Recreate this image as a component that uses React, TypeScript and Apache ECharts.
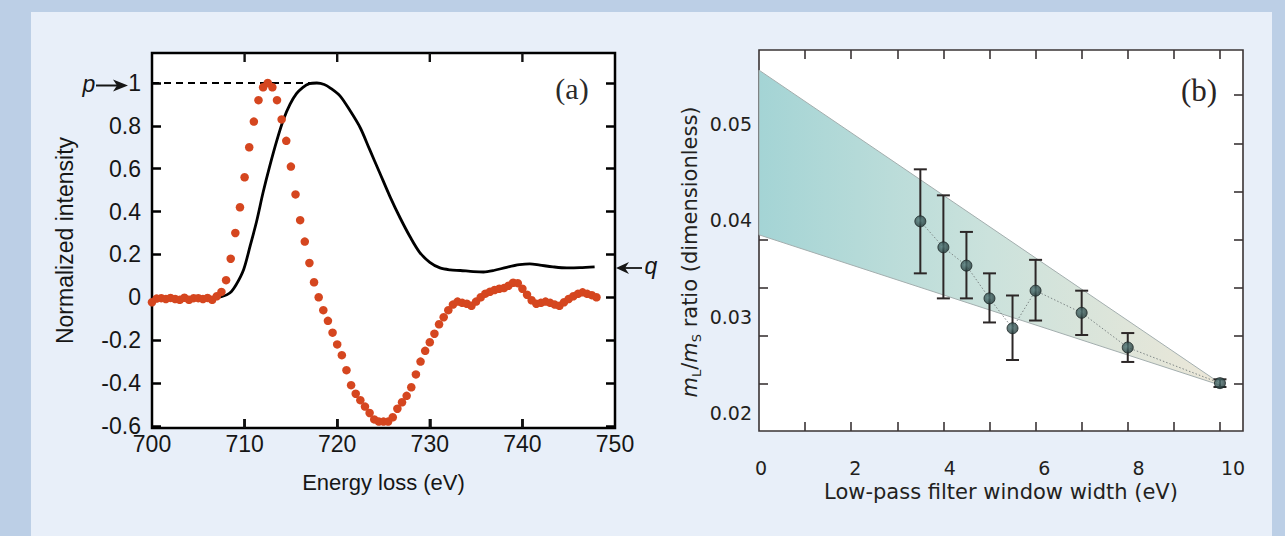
import React, { useEffect, useRef } from "react";
import * as echarts from "echarts";

// ---------- Panel (a) data ----------
const xTicksA = [700, 710, 720, 730, 740, 750];
const xInnerTicksA = [710, 720, 730, 740];
const yTicksA = [-0.6, -0.4, -0.2, 0, 0.2, 0.4, 0.6, 0.8, 1];
const yMinA = -0.61;
const yMaxA = 1.14;

// red dotted spectrum: [energy loss (eV), normalized intensity]
const redPoints: [number, number][] = [
  [700.0, -0.023], [700.5, -0.006], [701.0, -0.004], [701.5, -0.008], [702.0, -0.003],
  [702.5, -0.008], [703.0, -0.012], [703.5, -0.002], [704.0, -0.012], [704.5, -0.004],
  [705.0, -0.004], [705.5, -0.008], [706.0, -0.003], [706.5, -0.012], [707.0, 0.005],
  [707.5, 0.025], [708.0, 0.08], [708.5, 0.18], [709.0, 0.3], [709.5, 0.42],
  [710.0, 0.56], [710.5, 0.7], [711.0, 0.82], [711.5, 0.92], [712.0, 0.98],
  [712.5, 1.0], [713.0, 0.98], [713.5, 0.92], [714.0, 0.83], [714.5, 0.73],
  [715.0, 0.61], [715.5, 0.48], [716.0, 0.36], [716.5, 0.26], [717.0, 0.16],
  [717.5, 0.07], [718.0, 0.0], [718.5, -0.06], [719.0, -0.11], [719.5, -0.165],
  [720.0, -0.22], [720.5, -0.27], [721.0, -0.34], [721.5, -0.41], [722.0, -0.45],
  [722.5, -0.48], [723.0, -0.51], [723.5, -0.54], [724.0, -0.57], [724.5, -0.58],
  [725.0, -0.58], [725.5, -0.58], [726.0, -0.56], [726.5, -0.52], [727.0, -0.49],
  [727.5, -0.46], [728.0, -0.42], [728.5, -0.36], [729.0, -0.3], [729.5, -0.25],
  [730.0, -0.21], [730.5, -0.17], [731.0, -0.126], [731.5, -0.093], [732.0, -0.06],
  [732.5, -0.034], [733.0, -0.02], [733.5, -0.026], [734.0, -0.03], [734.5, -0.04],
  [735.0, -0.02], [735.5, 0.0], [736.0, 0.017], [736.5, 0.026], [737.0, 0.034],
  [737.5, 0.04], [738.0, 0.043], [738.5, 0.054], [739.0, 0.068], [739.5, 0.066],
  [740.0, 0.04], [740.5, 0.012], [741.0, -0.014], [741.5, -0.03], [742.0, -0.026],
  [742.5, -0.02], [743.0, -0.026], [743.5, -0.034], [744.0, -0.04], [744.5, -0.023],
  [745.0, -0.008], [745.5, 0.005], [746.0, 0.016], [746.5, 0.023], [747.0, 0.016],
  [747.5, 0.01], [748.0, 0.0],
];

// black solid spectrum
const blackEnergy = [
  706.5, 707.5, 708.4, 709.1, 709.9, 710.6, 711.3, 712.0, 712.7, 713.5, 714.2, 714.9,
  715.6, 716.3, 717.0, 717.8, 718.6, 719.3, 720.3, 721.4, 722.5, 723.5, 724.6, 725.7,
  726.8, 727.9, 728.9, 730.0, 731.1, 732.2, 733.3, 734.7, 735.8, 736.9, 738.3, 739.7,
  740.8, 741.9, 743.3, 744.8, 746.2, 747.8,
];
const blackIntensity = [
  0.0, 0.003, 0.02, 0.06, 0.13, 0.24, 0.355, 0.49, 0.61, 0.735, 0.83, 0.9,
  0.95, 0.98, 0.997, 1.0, 0.993, 0.975, 0.94, 0.87, 0.79, 0.69, 0.58, 0.47,
  0.37, 0.28, 0.21, 0.163, 0.137, 0.128, 0.125, 0.12, 0.118, 0.125, 0.14, 0.152,
  0.156, 0.15, 0.142, 0.137, 0.138, 0.142,
];
const peakEnergy = 717.8;
const peakLevel = 1;

// ---------- Panel (b) data ----------
const filterWidth = [3.5, 4, 4.5, 5, 5.5, 6, 7, 8, 10];
const ratio = [0.0399, 0.0372, 0.0353, 0.0319, 0.0288, 0.0327, 0.0304, 0.0268, 0.0231];
const errLow = [0.0345, 0.0319, 0.0319, 0.0294, 0.0255, 0.0296, 0.0281, 0.0253, 0.0227];
const errHigh = [0.0453, 0.0426, 0.0388, 0.0345, 0.0322, 0.0359, 0.0327, 0.0283, 0.0235];

const bandX = [0, 10];
const bandUpper = [0.0556, 0.0231];
const bandLower = [0.0385, 0.0229];

const xTicksB = [1, 2, 3, 4, 5, 6, 7, 8, 9, 10];
const xLabelsB = [0, 2, 4, 6, 8, 10];
const yTicksB = [0.023, 0.028, 0.033, 0.038, 0.043, 0.048, 0.053];
const yLabelsB = [0.02, 0.03, 0.04, 0.05];

const SANS = '"Liberation Sans", Arial, Helvetica, sans-serif';
const WIDE = '"DejaVu Sans", Verdana, sans-serif';
const SERIF = '"Liberation Serif", "Times New Roman", serif';

export default function App() {
  const ref = useRef<HTMLDivElement>(null);

  useEffect(() => {
    if (!ref.current) return;
    const chart = echarts.init(ref.current, undefined, { renderer: "svg" });

    const axisColorA = "#000";
    const axisColorB = "#3a3435";
    const noLine = () => ({ show: false, onZero: false });

    const tickA = (values: number[]) => ({
      show: true,
      inside: true,
      length: 9,
      customValues: values,
      lineStyle: { color: axisColorA, width: 2.5 },
    });
    const tickB = (values: number[]) => ({
      show: true,
      inside: true,
      length: 9,
      customValues: values,
      lineStyle: { color: axisColorB, width: 1.6 },
    });

    const bandFill = new echarts.graphic.LinearGradient(0, 0, 1, 0, [
      { offset: 0, color: "#a4d4d5" },
      { offset: 0.5, color: "#cbe2dc" },
      { offset: 1, color: "#ece7d8" },
    ]);

    const option: any = {
      animation: false,
      backgroundColor: "#e8eff9",
      grid: [
        {
          left: 152, top: 53, width: 463, height: 375,
          show: true, backgroundColor: "#ffffff",
          borderColor: axisColorA, borderWidth: 2.5,
        },
        {
          left: 759, top: 50, width: 484, height: 381,
          show: true, backgroundColor: "#ffffff",
          borderColor: axisColorB, borderWidth: 1.6,
        },
      ],
      xAxis: [
        {
          gridIndex: 0, type: "value", position: "bottom", min: 700, max: 750,
          axisLine: noLine(),
          axisTick: tickA(xInnerTicksA),
          axisLabel: {
            customValues: xTicksA, margin: 4, fontSize: 23,
            color: "#161616", fontFamily: SANS,
          },
          splitLine: { show: false },
          name: "Energy loss (eV)", nameLocation: "middle", nameGap: 43,
          nameTextStyle: { fontSize: 22, color: "#161616", fontFamily: SANS },
        },
        {
          gridIndex: 1, type: "value", position: "bottom", min: 0, max: 10.5,
          axisLine: noLine(), axisTick: tickB(xTicksB),
          axisLabel: { show: false }, splitLine: { show: false },
        },
        {
          gridIndex: 1, type: "value", position: "top", min: 0, max: 10.5,
          axisLine: noLine(), axisTick: tickB(xTicksB),
          axisLabel: { show: false }, splitLine: { show: false },
        },
        {
          // label axis of panel (b) (labels sit slightly off the ticks in the original)
          gridIndex: 1, type: "value", position: "bottom", min: -0.0424, max: 10.212,
          axisLine: noLine(), axisTick: { show: false },
          axisLabel: {
            customValues: xLabelsB, margin: 27, fontSize: 19,
            color: "#231f20", fontFamily: WIDE,
          },
          splitLine: { show: false },
          name: "Low-pass filter window width (eV)", nameLocation: "middle", nameGap: 47,
          nameTextStyle: { fontSize: 21, color: "#231f20", fontFamily: WIDE },
        },
      ],
      yAxis: [
        {
          gridIndex: 0, type: "value", position: "left", min: yMinA, max: yMaxA,
          axisLine: noLine(), axisTick: tickA(yTicksA),
          axisLabel: {
            customValues: yTicksA, margin: 11, fontSize: 23,
            color: "#161616", fontFamily: SANS,
          },
          splitLine: { show: false },
          name: "Normalized intensity", nameLocation: "middle", nameGap: 76,
          nameTextStyle: { fontSize: 23, color: "#161616", fontFamily: SANS },
        },
        {
          gridIndex: 0, type: "value", position: "right", min: yMinA, max: yMaxA,
          axisLine: noLine(), axisTick: tickA(yTicksA),
          axisLabel: { show: false }, splitLine: { show: false },
        },
        {
          gridIndex: 1, type: "value", position: "left", min: 0.01813, max: 0.05769,
          axisLine: noLine(), axisTick: tickB(yTicksB),
          axisLabel: {
            customValues: yLabelsB, margin: 7, fontSize: 19,
            color: "#231f20", fontFamily: WIDE,
          },
          splitLine: { show: false },
        },
        {
          gridIndex: 1, type: "value", position: "right", min: 0.01813, max: 0.05769,
          axisLine: noLine(), axisTick: tickB(yTicksB),
          axisLabel: { show: false }, splitLine: { show: false },
        },
      ],
      series: [
        {
          // inward frame ticks (top & bottom) of panel (a), same mechanism as the error bars
          type: "custom", xAxisIndex: 0, yAxisIndex: 0, z: 5, silent: true,
          data: xInnerTicksA.map((v) => [v, yMinA, yMaxA]),
          encode: { x: 0, y: [1, 2] },
          renderItem: (_params: any, api: any) => {
            const x = api.value(0);
            const top = api.coord([x, api.value(2)]);
            const bot = api.coord([x, api.value(1)]);
            const st = { stroke: "#111111", lineWidth: 2.4 };
            return {
              type: "group",
              children: [
                { type: "line", shape: { x1: top[0], y1: top[1], x2: top[0], y2: top[1] + 9 }, style: st },
                { type: "line", shape: { x1: bot[0], y1: bot[1], x2: bot[0], y2: bot[1] - 9 }, style: st },
              ],
            };
          },
        },
        {
          type: "line", xAxisIndex: 0, yAxisIndex: 0,
          data: [[700, peakLevel], [peakEnergy, peakLevel]],
          symbol: "none", silent: true, z: 3,
          lineStyle: { color: "#000", width: 2, type: [7, 5] },
        },
        {
          type: "line", xAxisIndex: 0, yAxisIndex: 0,
          data: blackEnergy.map((e, i) => [e, blackIntensity[i]]),
          symbol: "none", smooth: 0.3, z: 3,
          lineStyle: { color: "#000", width: 2.8 },
        },
        {
          type: "scatter", xAxisIndex: 0, yAxisIndex: 0,
          data: redPoints, symbolSize: 8.5, z: 4,
          itemStyle: { color: "#d5461f", opacity: 1 },
        },
        {
          type: "custom", xAxisIndex: 1, yAxisIndex: 2,
          data: [[bandX[0], bandLower[0]]], z: 2, silent: true,
          renderItem: (_params: any, api: any) => {
            const pts: number[][] = [];
            for (let i = 0; i < bandX.length; i++) pts.push(api.coord([bandX[i], bandUpper[i]]));
            for (let i = bandX.length - 1; i >= 0; i--) pts.push(api.coord([bandX[i], bandLower[i]]));
            return {
              type: "polygon",
              shape: { points: pts },
              style: { fill: bandFill, stroke: "#a3aeae", lineWidth: 1 },
            };
          },
        },
        {
          type: "line", xAxisIndex: 1, yAxisIndex: 2,
          data: filterWidth.map((x, i) => [x, ratio[i]]),
          symbol: "none", z: 3,
          lineStyle: { color: "#7d8585", width: 1, type: [1.5, 2] },
        },
        {
          type: "custom", xAxisIndex: 1, yAxisIndex: 2,
          data: filterWidth.map((x, i) => [x, errLow[i], errHigh[i]]),
          encode: { x: 0, y: [1, 2] }, z: 4,
          renderItem: (_params: any, api: any) => {
            const x = api.value(0);
            const top = api.coord([x, api.value(2)]);
            const bot = api.coord([x, api.value(1)]);
            const cap = 6.5;
            const st = { stroke: "#2c2727", lineWidth: 2 };
            return {
              type: "group",
              children: [
                { type: "line", shape: { x1: top[0], y1: top[1], x2: bot[0], y2: bot[1] }, style: st },
                { type: "line", shape: { x1: top[0] - cap, y1: top[1], x2: top[0] + cap, y2: top[1] }, style: st },
                { type: "line", shape: { x1: bot[0] - cap, y1: bot[1], x2: bot[0] + cap, y2: bot[1] }, style: st },
              ],
            };
          },
        },
        {
          type: "scatter", xAxisIndex: 1, yAxisIndex: 2,
          data: filterWidth.map((x, i) => [x, ratio[i]]),
          symbolSize: 11, z: 5,
          itemStyle: {
            color: new echarts.graphic.RadialGradient(0.4, 0.4, 0.6, [
              { offset: 0, color: "#557d7d" },
              { offset: 1, color: "#253b3b" },
            ]),
            borderColor: "#1b2626", borderWidth: 1,
          },
        },
      ],
      graphic: [
        // outer frame
        { type: "rect", silent: true, shape: { x: 0, y: 0, width: 31, height: 536 }, style: { fill: "#bccfe6" } },
        { type: "rect", silent: true, shape: { x: 0, y: 0, width: 1285, height: 12 }, style: { fill: "#bccfe6" } },
        { type: "rect", silent: true, shape: { x: 1272, y: 0, width: 13, height: 536 }, style: { fill: "#bccfe6" } },
        // panel labels
        {
          type: "text", x: 572, y: 88, silent: true,
          style: { text: "(a)", fontSize: 30, fontFamily: SERIF, fill: "#2a2a2a", align: "center", verticalAlign: "middle" },
        },
        {
          type: "text", x: 1199, y: 90, silent: true,
          style: { text: "(b)", fontSize: 31, fontFamily: SERIF, fill: "#2a2424", align: "center", verticalAlign: "middle" },
        },
        // p -> 1
        {
          type: "text", x: 89, y: 84, silent: true,
          style: { text: "p", fontSize: 23, fontStyle: "italic", fontFamily: SANS, fill: "#161616", align: "center", verticalAlign: "middle" },
        },
        { type: "line", silent: true, shape: { x1: 96, y1: 85.5, x2: 118, y2: 85.5 }, style: { stroke: "#161616", lineWidth: 2 } },
        { type: "polygon", silent: true, shape: { points: [[128, 85.5], [113, 79.5], [117, 85.5], [113, 91.5]] }, style: { fill: "#161616" } },
        // <- q
        { type: "line", silent: true, shape: { x1: 620, y1: 268, x2: 642, y2: 268 }, style: { stroke: "#161616", lineWidth: 1.8 } },
        { type: "polygon", silent: true, shape: { points: [[616, 268], [629, 262], [625, 268], [629, 274]] }, style: { fill: "#161616" } },
        {
          type: "text", x: 651, y: 266, silent: true,
          style: { text: "q", fontSize: 23, fontStyle: "italic", fontFamily: SANS, fill: "#161616", align: "center", verticalAlign: "middle" },
        },
        // panel (b) y title
        {
          type: "text", x: 690, y: 252, rotation: Math.PI / 2, silent: true,
          style: {
            text: "{i|m}{s|L}{n|/}{i|m}{s|S}{n| ratio (dimensionless)}",
            align: "center", verticalAlign: "middle",
            rich: {
              i: { fontSize: 21, fontStyle: "italic", fontFamily: WIDE, fill: "#231f20", lineHeight: 25 },
              n: { fontSize: 21, fontFamily: WIDE, fill: "#231f20", lineHeight: 25 },
              s: { fontSize: 13, fontFamily: WIDE, fill: "#231f20", lineHeight: 15, verticalAlign: "bottom" },
            },
          },
        },
      ],
    };

    chart.setOption(option);
    return () => chart.dispose();
  }, []);

  return (
    <div
      ref={ref}
      style={{ position: "fixed", left: 0, top: 0, width: 1285, height: 536 }}
    />
  );
}
